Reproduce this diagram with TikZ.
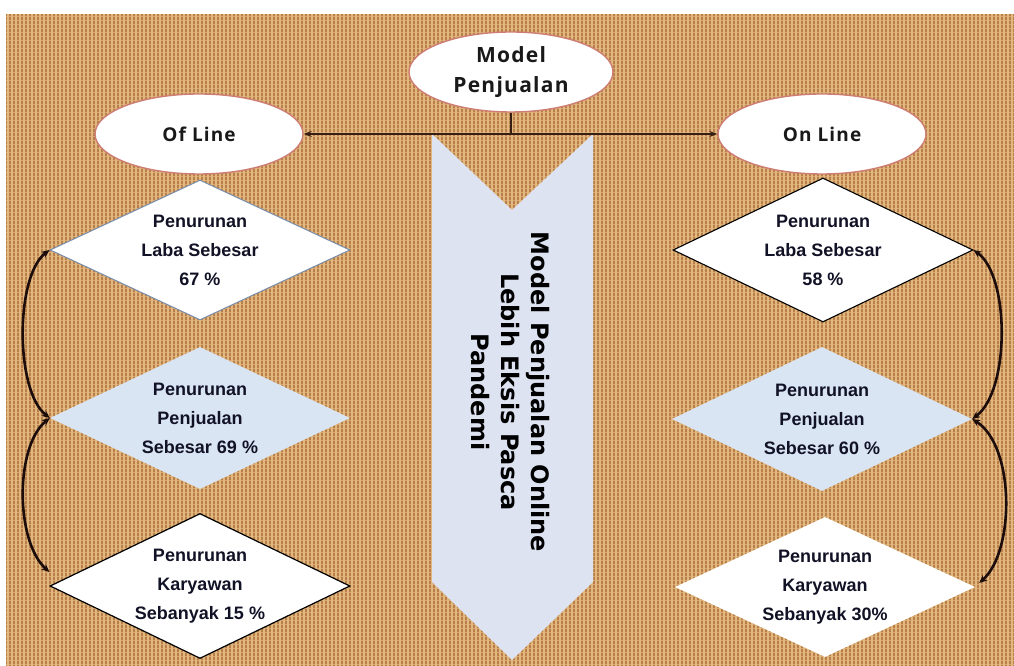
\documentclass[tikz,border=0pt]{standalone}
\usepackage{fontspec}
\usetikzlibrary{shapes.geometric,arrows.meta}
\newfontfamily\ellfont[LetterSpace=6]{Open Sans}
\newfontfamily\chevfont{DejaVu Sans}
\newfontfamily\diafont{Liberation Sans}
\definecolor{bgbrown}{RGB}{184,128,72}
\definecolor{weavecol}{RGB}{226,184,128}
\definecolor{weavecolh}{RGB}{214,168,112}
\definecolor{chevfill}{RGB}{221,227,241}
\definecolor{dialight}{RGB}{218,229,243}
\definecolor{ellborder}{RGB}{205,125,115}
\definecolor{linecol}{RGB}{55,30,20}
\definecolor{curvecol}{RGB}{28,12,12}
\definecolor{diatext}{RGB}{18,18,38}
\definecolor{diaborder}{RGB}{120,140,170}
\tikzset{
  weavev/.style={draw=weavecol, line width=1.3pt},
  weaveh/.style={draw=weavecolh, line width=0.7pt},
  ellnode/.style={ellipse, fill=white, draw=ellborder, line width=1.4pt,
    inner sep=0pt, align=center, text=black!90,
    font=\ellfont\bfseries\fontsize{21}{30}\selectfont},
  diabox/.style={diamond, shape aspect=2.1, inner sep=0pt, minimum width=300pt,
    align=center, text=diatext, font=\diafont\bfseries\fontsize{18}{29}\selectfont},
  diawhite/.style={diabox, fill=white},
  dialblue/.style={diabox, fill=dialight},
  harrow/.style={draw=linecol, line width=1.4pt, {Stealth[length=8pt,width=6pt]}-{Stealth[length=8pt,width=6pt]}},
  curvearrow/.style={draw=curvecol, line width=2.6pt, {Stealth[length=8pt,width=7pt]}-{Stealth[length=8pt,width=7pt]}},
}
\begin{document}
\begin{tikzpicture}[x=1pt,y=1pt]
\useasboundingbox (0,0) rectangle (1014,666);
\fill[white] (0,0) rectangle (1014,666);
\fill[bgbrown] (6,0) rectangle (1014,652);
\begin{scope}
\clip (6,0) rectangle (1014,652);
\foreach \y in {2,6,...,651} \draw[weaveh] (6,\y) -- (1014,\y);
\foreach \x in {8,12,...,1013} \draw[weavev] (\x,0) -- (\x,652);
\end{scope}

% central chevron
\fill[chevfill] (432,532) -- (512,456) -- (593,532) -- (593,84) -- (512,6) -- (432,84) -- cycle;
\node[rotate=-90, align=center, text=black, font=\chevfont\bfseries\fontsize{24}{30}\selectfont]
  (chevtext) at (510,274) {Model Penjualan Online\\Lebih Eksis Pasca\\Pandemi};

% ellipses
\node[ellnode, minimum width=204pt, minimum height=80pt] (model) at (511,594) {Model\\Penjualan};
\node[ellnode, minimum width=208pt, minimum height=80pt, font=\ellfont\bfseries\fontsize{19}{29}\selectfont] (ofl) at (199,532) {Of Line};
\node[ellnode, minimum width=208pt, minimum height=80pt, font=\ellfont\bfseries\fontsize{19}{29}\selectfont] (onl) at (822,532) {On Line};

\coordinate (junction) at (model.south |- ofl.east);
\draw[harrow] (ofl.east) -- (onl.west);
\draw[draw=linecol, line width=1.4pt] (model.south) -- (junction);

% left diamonds
\node[diawhite, draw=diaborder, line width=1pt, minimum height=140pt] (d1) at (200,416) {Penurunan\\Laba Sebesar\\67 \%};
\node[dialblue, minimum height=142pt] (d2) at (200,248) {Penurunan\\Penjualan\\Sebesar 69 \%};
\node[diawhite, draw=black, line width=1.2pt, minimum height=145pt] (d3) at (200,80) {Penurunan\\Karyawan\\Sebanyak 15 \%};

% right diamonds
\node[diawhite, draw=black, line width=1.1pt, minimum height=144pt] (r1) at (823,416) {Penurunan\\Laba Sebesar\\58 \%};
\node[dialblue, minimum height=144pt] (r2) at (822,247) {Penurunan\\Penjualan\\Sebesar 60 \%};
\node[diawhite, minimum height=140pt] (r3) at (825,79) {Penurunan\\Karyawan\\Sebanyak 30\%};

% curved connectors
\draw[curvearrow] (d1.west) .. controls (15,390) and (15,275) .. (d2.west);
\draw[curvearrow] (d2.west) .. controls (15,220) and (15,125) .. ([yshift=14pt]d3.west);
\draw[curvearrow] (r1.east) .. controls (1010,390) and (1010,275) .. (r2.east);
\draw[curvearrow] (r2.east) .. controls (1015,220) and (1015,115) .. ([xshift=4pt,yshift=4pt]r3.east);
\end{tikzpicture}
\end{document}
